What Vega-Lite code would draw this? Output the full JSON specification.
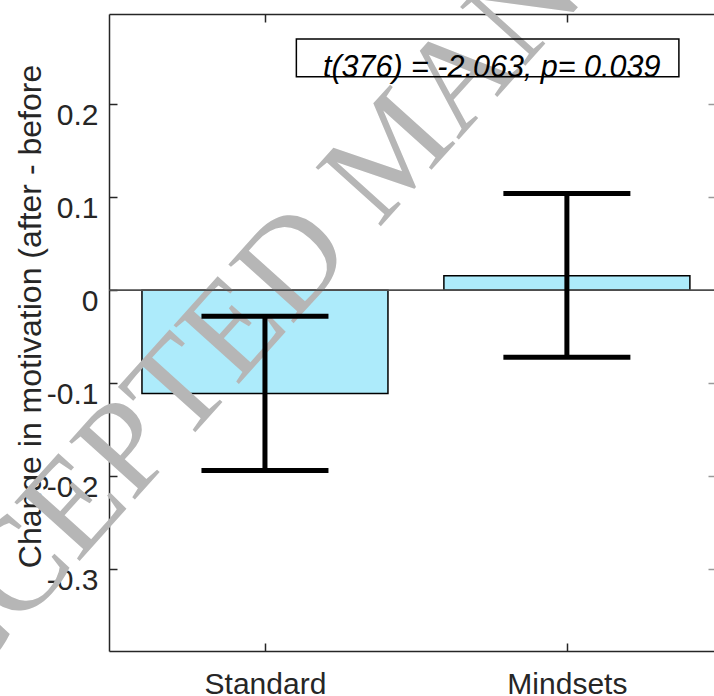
{
  "$schema": "https://vega.github.io/schema/vega-lite/v6.json",
  "width": 605,
  "height": 637,
  "autosize": "none",
  "padding": {"left": 109, "top": 14, "right": 0, "bottom": 45},
  "background": "white",
  "config": {
    "view": {"stroke": null},
    "font": "Liberation Sans",
    "axis": {
      "domainColor": "#262626",
      "tickColor": "#262626",
      "labelColor": "#262626",
      "titleColor": "#262626",
      "domainWidth": 1.5,
      "tickWidth": 1.5,
      "grid": false,
      "zindex": 1
    }
  },
  "data": {
    "values": [
      {"group": "Standard", "pos": 1, "mean": -0.111, "lo": -0.194, "hi": -0.028},
      {"group": "Mindsets", "pos": 2, "mean": 0.0155, "lo": -0.072, "hi": 0.104}
    ]
  },
  "resolve": {"axis": {"x": "independent", "y": "independent"}},
  "layer": [
    {
      "mark": {"type": "bar", "size": 246, "fill": "#ADEBFB", "stroke": "black", "strokeWidth": 1.5},
      "encoding": {
        "x": {
          "field": "pos", "type": "quantitative",
          "scale": {"domain": [0.5, 2.4707], "nice": false, "zero": false},
          "axis": {
            "orient": "bottom", "values": [1, 2], "title": null,
            "labelExpr": "datum.value == 1 ? 'Standard' : 'Mindsets'",
            "tickSize": -8, "labelPadding": 50.5, "labelBaseline": "alphabetic",
            "labelFontSize": 30, "labelAngle": 0
          }
        },
        "y": {
          "field": "mean", "type": "quantitative",
          "scale": {"domain": [-0.388, 0.297], "nice": false, "zero": false},
          "axis": {
            "orient": "left", "values": [-0.3, -0.2, -0.1, 0, 0.1, 0.2],
            "labelExpr": "datum.value == 0 ? '0' : (datum.value < 0 ? '-' + format(-datum.value, '.1f') : format(datum.value, '.1f'))",
            "tickSize": -8, "labelPadding": 19, "labelOffset": 11,
            "labelFontSize": 30,
            "title": "Change in motivation (after - before",
            "titleFontSize": 32, "titleFontWeight": "normal",
            "titleAngle": -90, "titleX": -69, "titleY": 302,
            "titleAlign": "center", "titleBaseline": "alphabetic"
          }
        },
        "y2": {"datum": 0}
      }
    },
    {
      "data": {"values": [{"wm": "ACCEPTED MANUSCRIPT"}]},
      "mark": {"type": "text", "font": "Liberation Serif", "fontSize": 134, "angle": -48, "align": "center", "baseline": "alphabetic", "color": "#B6B6B6"},
      "encoding": {
        "x": {"datum": 1.528, "type": "quantitative", "axis": null},
        "y": {"datum": 0.1208, "type": "quantitative", "axis": null},
        "text": {"field": "wm"}
      }
    },
    {
      "mark": {"type": "rule", "color": "#4d4d4d", "strokeWidth": 1.5},
      "encoding": {"y": {"datum": 0, "type": "quantitative", "axis": null}}
    },
    {
      "mark": {"type": "rule", "color": "black", "strokeWidth": 5},
      "encoding": {
        "x": {"field": "pos", "type": "quantitative", "axis": null},
        "y": {"field": "lo", "type": "quantitative", "axis": null},
        "y2": {"field": "hi"}
      }
    },
    {
      "mark": {"type": "tick", "orient": "horizontal", "color": "black", "size": 127, "thickness": 5, "opacity": 1},
      "encoding": {
        "x": {
          "field": "pos", "type": "quantitative",
          "axis": {"orient": "top", "values": [1, 2], "labels": false, "title": null, "tickSize": -8}
        },
        "y": {"field": "lo", "type": "quantitative", "axis": null}
      }
    },
    {
      "mark": {"type": "tick", "orient": "horizontal", "color": "black", "size": 127, "thickness": 5, "opacity": 1},
      "encoding": {
        "x": {"field": "pos", "type": "quantitative", "axis": null},
        "y": {
          "field": "hi", "type": "quantitative",
          "axis": {"orient": "right", "values": [-0.3, -0.2, -0.1, 0.1, 0.2], "labels": false, "title": null, "domain": false, "tickSize": -6, "tickColor": "#999999"}
        }
      }
    },
    {
      "data": {"values": [{"label": "t(376) = -2.063, p= 0.039"}]},
      "mark": {"type": "rect", "fill": null, "fillOpacity": 0, "stroke": "black", "strokeWidth": 1.5},
      "encoding": {
        "x": {"datum": 1.104, "type": "quantitative", "axis": null},
        "x2": {"datum": 2.371},
        "y": {"datum": 0.2702, "type": "quantitative", "axis": null},
        "y2": {"datum": 0.2294}
      }
    },
    {
      "data": {"values": [{"label": "t(376) = -2.063, p= 0.039"}]},
      "mark": {"type": "text", "font": "Liberation Sans", "fontSize": 30.5, "fontStyle": "italic", "align": "left", "baseline": "alphabetic", "color": "black"},
      "encoding": {
        "x": {"datum": 1.192, "type": "quantitative", "axis": null},
        "y": {"datum": 0.2294, "type": "quantitative", "axis": null},
        "text": {"field": "label"}
      }
    }
  ]
}
